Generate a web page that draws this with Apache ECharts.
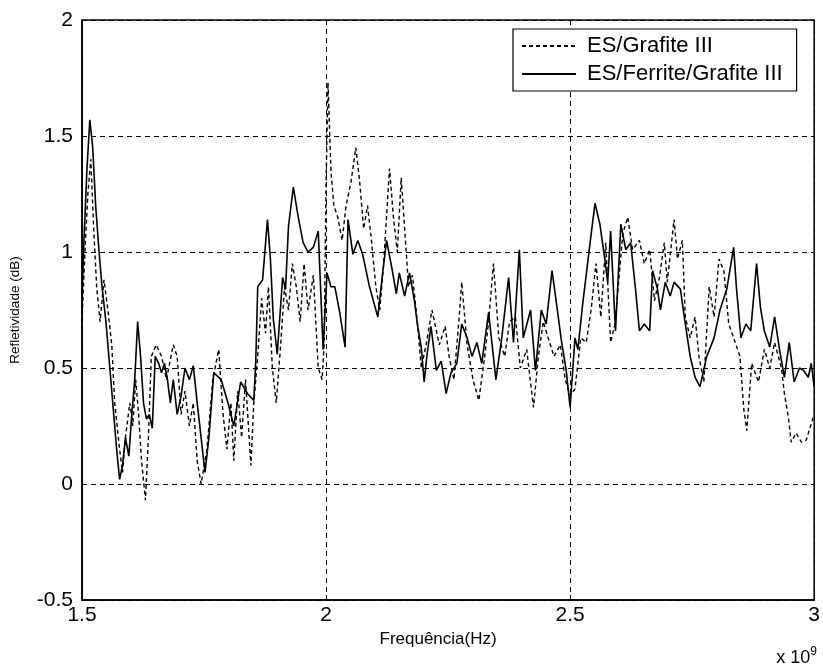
<!DOCTYPE html>
<html>
<head>
<meta charset="utf-8">
<script src="https://cdn.jsdelivr.net/npm/echarts@6/dist/echarts.min.js"></script>
<style>
  html, body { margin: 0; padding: 0; background: #fff; }
  #main { width: 823px; height: 671px; }
</style>
</head>
<body>
<div id="main"></div>
<script>
// frequência em unidades de 1e9 Hz
var xGrafite = [1.500,1.506,1.512,1.518,1.524,1.530,1.537,1.545,1.553,1.561,1.567,1.577,1.583,1.589,1.598,1.604,1.610,1.616,1.622,1.630,
  1.636,1.642,1.652,1.663,1.673,1.687,1.695,1.703,1.711,1.720,1.728,1.736,1.744,1.756,1.768,1.780,1.789,1.797,1.805,1.811,
  1.819,1.827,1.835,1.846,1.852,1.860,1.868,1.876,1.882,1.890,1.898,1.907,1.915,1.923,1.931,1.939,1.947,1.955,1.963,1.974,
  1.984,1.992,1.996,2.000,2.004,2.010,2.016,2.024,2.033,2.041,2.051,2.061,2.069,2.077,2.085,2.093,2.102,2.110,2.118,2.130,
  2.138,2.146,2.154,2.161,2.169,2.177,2.187,2.195,2.205,2.217,2.232,2.244,2.252,2.262,2.272,2.278,2.289,2.301,2.313,2.325,
  2.333,2.343,2.354,2.366,2.376,2.388,2.398,2.411,2.425,2.435,2.445,2.455,2.467,2.480,2.490,2.500,2.510,2.522,2.533,2.543,
  2.553,2.563,2.573,2.583,2.592,2.608,2.618,2.628,2.642,2.652,2.663,2.673,2.683,2.693,2.699,2.713,2.720,2.730,2.736,2.746,
  2.756,2.764,2.774,2.785,2.795,2.805,2.815,2.825,2.835,2.848,2.856,2.862,2.872,2.886,2.898,2.909,2.919,2.933,2.939,2.947,
  2.953,2.963,2.974,2.984,2.994,3.000];
var yGrafite = [0.70,1.00,1.25,1.40,1.10,0.85,0.70,0.88,0.75,0.60,0.35,0.15,0.05,0.20,0.35,0.25,0.45,0.30,0.10,-0.07,
  0.20,0.55,0.60,0.55,0.45,0.60,0.55,0.30,0.40,0.25,0.35,0.10,0.00,0.15,0.45,0.58,0.30,0.15,0.35,0.10,
  0.40,0.20,0.45,0.08,0.35,0.55,0.80,0.65,0.85,0.50,0.35,0.60,0.85,0.75,0.95,0.85,0.70,0.95,0.75,0.90,
  0.50,0.45,0.60,1.30,1.73,1.35,1.20,1.15,1.05,1.20,1.30,1.45,1.30,1.10,1.20,1.05,0.85,0.75,0.95,1.36,
  1.15,1.00,1.32,1.10,0.85,0.90,0.70,0.50,0.60,0.75,0.60,0.68,0.55,0.45,0.70,0.87,0.60,0.45,0.36,0.55,
  0.70,0.95,0.63,0.55,0.70,0.72,0.50,0.58,0.33,0.55,0.70,0.63,0.55,0.60,0.45,0.38,0.41,0.63,0.61,0.75,
  0.95,0.72,1.04,0.61,0.69,1.08,1.15,1.01,1.05,0.95,1.01,0.79,0.89,1.04,0.87,1.14,0.97,1.05,0.72,0.63,
  0.72,0.55,0.44,0.85,0.72,0.97,0.92,0.69,0.63,0.55,0.32,0.23,0.52,0.44,0.58,0.50,0.61,0.50,0.39,0.29,
  0.18,0.22,0.18,0.19,0.26,0.30];

var xFerrite = [1.500,1.504,1.510,1.516,1.522,1.528,1.535,1.541,1.549,1.557,1.565,1.571,1.577,1.583,1.589,1.596,1.602,1.608,1.614,1.620,
  1.626,1.632,1.638,1.644,1.650,1.657,1.663,1.669,1.675,1.681,1.687,1.695,1.703,1.711,1.720,1.728,1.736,1.744,1.752,1.760,
  1.770,1.785,1.799,1.811,1.825,1.839,1.852,1.856,1.860,1.870,1.880,1.886,1.892,1.900,1.911,1.917,1.923,1.933,1.943,1.953,
  1.963,1.974,1.984,1.994,2.002,2.010,2.018,2.028,2.039,2.045,2.055,2.065,2.075,2.089,2.106,2.116,2.124,2.134,2.144,2.150,
  2.161,2.171,2.181,2.187,2.195,2.201,2.207,2.215,2.226,2.236,2.246,2.256,2.268,2.278,2.289,2.299,2.309,2.319,2.333,2.348,
  2.360,2.374,2.384,2.396,2.404,2.419,2.429,2.441,2.451,2.463,2.472,2.482,2.492,2.500,2.510,2.516,2.526,2.541,2.551,2.561,
  2.571,2.577,2.583,2.593,2.604,2.614,2.624,2.634,2.642,2.652,2.663,2.669,2.679,2.685,2.695,2.705,2.713,2.726,2.736,2.746,
  2.756,2.766,2.780,2.795,2.807,2.821,2.835,2.841,2.850,2.860,2.870,2.882,2.890,2.898,2.909,2.919,2.929,2.939,2.949,2.959,
  2.970,2.978,2.988,2.994,3.000];
var yFerrite = [0.80,1.05,1.35,1.57,1.45,1.20,1.00,0.85,0.70,0.50,0.30,0.15,0.02,0.08,0.20,0.12,0.30,0.45,0.70,0.55,
  0.35,0.28,0.30,0.24,0.55,0.52,0.48,0.52,0.45,0.35,0.45,0.30,0.38,0.50,0.45,0.51,0.35,0.20,0.05,0.20,
  0.48,0.45,0.35,0.25,0.44,0.39,0.36,0.53,0.85,0.88,1.14,0.97,0.71,0.56,0.89,0.84,1.11,1.28,1.15,1.04,
  1.00,1.02,1.09,0.58,0.91,0.85,0.85,0.74,0.59,1.14,0.99,1.05,0.99,0.85,0.72,0.91,1.05,0.94,0.82,0.91,
  0.81,0.91,0.79,0.69,0.59,0.44,0.56,0.68,0.49,0.53,0.39,0.48,0.52,0.69,0.63,0.55,0.61,0.52,0.74,0.45,
  0.63,0.89,0.61,1.01,0.63,0.75,0.49,0.75,0.69,0.92,0.78,0.62,0.49,0.33,0.63,0.58,0.78,1.04,1.21,1.12,
  0.97,0.87,1.09,0.66,1.12,1.01,1.04,0.84,0.66,0.69,0.66,0.92,0.84,0.75,0.87,0.81,0.87,0.84,0.69,0.55,
  0.46,0.42,0.55,0.63,0.75,0.84,1.02,0.84,0.63,0.69,0.66,0.95,0.76,0.66,0.59,0.72,0.58,0.46,0.61,0.44,
  0.50,0.49,0.46,0.52,0.42];

var xTicks = [1.5, 2, 2.5, 3];
var yTicks = [-0.5, 0, 0.5, 1, 1.5, 2];

function pares(xs, ys) {
  var out = [];
  for (var i = 0; i < xs.length; i++) out.push([xs[i], ys[i]]);
  return out;
}

var fonte = '"Liberation Sans", Arial, sans-serif';
var option = {
  backgroundColor: '#fff',
  animation: false,
  textStyle: { fontFamily: fonte, color: '#000' },
  grid: {
    left: 80, right: 4, top: 20, bottom: 71,
    show: true, borderColor: '#000', borderWidth: 1.5, backgroundColor: '#fff'
  },
  legend: {
    orient: 'vertical',
    left: 513, top: 29,
    padding: [6, 14, 6, 8],
    itemGap: 6,
    itemWidth: 54, itemHeight: 12,
    backgroundColor: '#fff',
    borderColor: '#000', borderWidth: 1.2,
    itemStyle: { opacity: 0 },
    textStyle: { fontFamily: fonte, fontSize: 22, color: '#000', padding: [0, 0, 0, 6] },
    data: ['ES/Grafite III', 'ES/Ferrite/Grafite III']
  },
  xAxis: {
    type: 'value',
    min: xTicks[0], max: xTicks[xTicks.length - 1], interval: 0.5,
    name: 'Frequência(Hz)',
    nameLocation: 'middle', nameGap: 28,
    nameTextStyle: { fontSize: 17, color: '#000', padding: [0, 20, 0, 0] },
    axisLine: { onZero: false, lineStyle: { color: '#000', width: 1.5 } },
    axisTick: { inside: true, length: 5, lineStyle: { color: '#000' } },
    axisLabel: { fontSize: 21, color: '#000', margin: 5 },
    splitLine: { show: true, lineStyle: { color: '#000', type: [5, 4], width: 1 } }
  },
  yAxis: {
    type: 'value',
    min: yTicks[0], max: yTicks[yTicks.length - 1], interval: 0.5,
    name: 'Refletividade (dB)',
    nameLocation: 'middle', nameGap: 60, nameRotate: 90,
    nameTextStyle: { fontSize: 13.5, color: '#000' },
    axisLine: { onZero: false, lineStyle: { color: '#000', width: 1.5 } },
    axisTick: { inside: true, length: 5, lineStyle: { color: '#000' } },
    axisLabel: { fontSize: 21, color: '#000', margin: 9 },
    splitLine: { show: true, lineStyle: { color: '#000', type: [5, 4], width: 1 } }
  },
  series: [
    {
      name: 'ES/Grafite III',
      type: 'line',
      showSymbol: false, symbol: 'none',
      data: pares(xGrafite, yGrafite),
      lineStyle: { color: '#000', width: 1.4, type: [4, 3] },
      itemStyle: { color: '#000' },
      z: 3
    },
    {
      name: 'ES/Ferrite/Grafite III',
      type: 'line',
      showSymbol: false, symbol: 'none',
      data: pares(xFerrite, yFerrite),
      lineStyle: { color: '#000', width: 1.6 },
      itemStyle: { color: '#000' },
      z: 4
    }
  ],
  graphic: [
    {
      type: 'text',
      right: 6, top: 646,
      style: {
        text: 'x 10{s|9}',
        rich: { s: { fontSize: 12, verticalAlign: 'top', padding: [0, 0, 12, 0] } },
        fontFamily: fonte, fontSize: 18, fill: '#000'
      }
    }
  ]
};

var myChart = echarts.init(document.getElementById('main'));
myChart.setOption(option);
</script>
</body>
</html>
